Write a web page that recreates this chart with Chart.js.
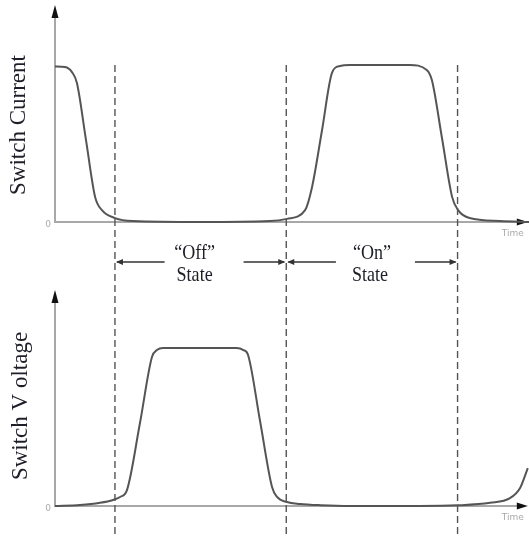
<!DOCTYPE html>
<html>
<head>
<meta charset="utf-8">
<script src="https://cdn.jsdelivr.net/npm/chart.js@4/dist/chart.umd.min.js"></script>
<style>
  html, body { margin: 0; padding: 0; background: #fff; }
  #wrap { width: 529px; height: 536px; }
</style>
</head>
<body>
<div id="wrap"><canvas id="switchChart" width="529" height="536"></canvas></div>
<script>
// =========================
// DATA
// =========================

// time axis (arbitrary units), shared by both traces
const currentTimes = [0, 0.58, 0.99, 1.28, 1.81, 2.34, 2.74, 3.5, 4.55, 8.5, 12.55, 13.54, 14.6, 15.0, 15.59, 16.17, 16.64, 17.2, 20.7, 21.7, 22.0, 22.59, 23.18, 23.53, 24.2, 25.98, 27.67];
const currentValues = [0.99, 0.987, 0.955, 0.885, 0.522, 0.16, 0.076, 0.025, 0.006, 0, 0.006, 0.02, 0.076, 0.22, 0.586, 0.95, 0.994, 1.0, 1.0, 0.968, 0.904, 0.535, 0.16, 0.076, 0.025, 0.006, 0];

const voltageTimes = [0, 1.46, 2.63, 3.39, 3.8, 4.2, 4.96, 5.66, 5.95, 6.3, 10.6, 11.0, 11.27, 11.97, 12.67, 12.96, 13.54, 14.3, 15.5, 17.2, 21.3, 23.5, 25.4, 26.56, 27.15, 27.6];
const voltageValues = [0, 0.006, 0.02, 0.038, 0.057, 0.1, 0.525, 0.943, 0.987, 1.0, 1.0, 0.987, 0.956, 0.538, 0.12, 0.057, 0.025, 0.013, 0.005, 0, 0, 0.004, 0.02, 0.05, 0.114, 0.24];

// switching instants (dashed lines)
const stateEdges = [3.5, 13.5, 23.5];
const stateNames = ["\u201cOff\u201d", "\u201cOn\u201d"];

const axisTitles = ["Switch Current", "Switch V oltage"];
const timeLabel = "Time";
const zeroLabel = "0";

const xEnd = 27.25;


// =========================
// HELPERS
// =========================

function toPoints(times, values) {

  return times.map(
    (t, i) => ({ x: t, y: values[i] })
  );

}


function arrowHead(ctx, x, y, dir, len, half) {

  ctx.beginPath();

  if(dir === "up") {
    ctx.moveTo(x, y);
    ctx.lineTo(x - half, y + len);
    ctx.lineTo(x + half, y + len);
  } else if(dir === "right") {
    ctx.moveTo(x, y);
    ctx.lineTo(x - len, y - half);
    ctx.lineTo(x - len, y + half);
  } else {
    ctx.moveTo(x, y);
    ctx.lineTo(x + len, y - half);
    ctx.lineTo(x + len, y + half);
  }

  ctx.closePath();
  ctx.fill();

}


function serifText(ctx, text, x, y, size, squeeze) {

  ctx.save();
  ctx.translate(x, y);
  ctx.scale(squeeze, 1);
  ctx.font = size + "px 'Liberation Serif', 'DejaVu Serif', serif";
  ctx.textAlign = "center";
  ctx.textBaseline = "middle";
  ctx.fillText(text, 0, 0);
  ctx.restore();

}


// =========================
// AXES + ANNOTATIONS
// =========================

const diagramPlugin = {

  id: "diagram",

  beforeDatasetsDraw(chart) {

    const ctx = chart.ctx;
    const xs = chart.scales.x;
    const x0 = xs.getPixelForValue(0);
    const x1 = xs.getPixelForValue(xEnd);

    const panels = [
      { scale: chart.scales.yI, top: 5, title: axisTitles[0], tx: 25, ty: 125 },
      { scale: chart.scales.yV, top: 290, title: axisTitles[1], tx: 27, ty: 406 }
    ];

    panels.forEach(p => {

      const base = p.scale.getPixelForValue(0);

      ctx.save();
      ctx.strokeStyle = "#a8a8a8";
      ctx.lineWidth = 2;
      ctx.beginPath();
      ctx.moveTo(x0, p.top + 8);
      ctx.lineTo(x0, base);
      ctx.lineTo(x1 - 4, base);
      ctx.stroke();

      ctx.fillStyle = "#111";
      arrowHead(ctx, x0, p.top, "up", 13, 3.5);
      arrowHead(ctx, x1 + 6, base, "right", 11, 3.5);

      // small tick labels
      ctx.fillStyle = "#aaa";
      ctx.font = "9px 'DejaVu Sans', sans-serif";
      ctx.textAlign = "center";
      ctx.textBaseline = "middle";
      ctx.fillText(zeroLabel, x0 - 7, base + 3);
      ctx.fillText(timeLabel, x1 - 9, base + 12);

      // rotated title
      ctx.fillStyle = "#1e1e28";
      ctx.translate(p.tx, p.ty);
      ctx.rotate(-Math.PI / 2);
      ctx.font = "23px 'Liberation Serif', 'DejaVu Serif', serif";
      ctx.textAlign = "center";
      ctx.textBaseline = "alphabetic";
      ctx.fillText(p.title, 0, 0);
      ctx.restore();

    });

  },

  afterDatasetsDraw(chart) {

    const ctx = chart.ctx;
    const xs = chart.scales.x;
    const edges = stateEdges.map(t => xs.getPixelForValue(t));

    // dashed switching lines
    ctx.save();
    ctx.strokeStyle = "#555";
    ctx.lineWidth = 1.4;
    ctx.setLineDash([7, 4]);
    edges.forEach(px => {
      ctx.beginPath();
      ctx.moveTo(px, 65);
      ctx.lineTo(px, 536);
      ctx.stroke();
    });
    ctx.restore();

    // state span arrows and labels
    const arrowY = 262;

    ctx.save();
    ctx.strokeStyle = "#333";
    ctx.fillStyle = "#333";
    ctx.lineWidth = 1.3;

    for(let i = 0; i < stateNames.length; i++) {

      const a = edges[i];
      const b = edges[i + 1];
      const mid = (a + b) / 2 + 1;

      ctx.beginPath();
      ctx.moveTo(a + 2, arrowY);
      ctx.lineTo(mid - 37, arrowY);
      ctx.moveTo(mid + 42, arrowY);
      ctx.lineTo(b - 2, arrowY);
      ctx.stroke();

      arrowHead(ctx, a + 1, arrowY, "left", 7, 3);
      arrowHead(ctx, b - 1, arrowY, "right", 7, 3);

      ctx.fillStyle = "#1e1e28";
      serifText(ctx, stateNames[i], mid - 7 + i * 6, 253, 22, 0.82);
      serifText(ctx, "State", mid - 7 + i * 4, 275, 22, 0.82);
      ctx.fillStyle = "#333";

    }

    ctx.restore();

  }

};


// =========================
// CHART
// =========================

new Chart(
  document.getElementById("switchChart"),
  {

    type: "line",

    data: {

      datasets: [

        {
          label: "Switch Current",
          data: toPoints(currentTimes, currentValues),
          yAxisID: "yI",
          borderColor: "#555",
          borderWidth: 2,
          pointRadius: 0,
          cubicInterpolationMode: "monotone",
          clip: false
        },

        {
          label: "Switch Voltage",
          data: toPoints(voltageTimes, voltageValues),
          yAxisID: "yV",
          borderColor: "#555",
          borderWidth: 2,
          pointRadius: 0,
          cubicInterpolationMode: "monotone",
          clip: false
        }

      ]

    },

    options: {

      responsive: false,
      animation: false,
      events: [],

      layout: {
        padding: { left: 55, right: 0, top: 0, bottom: 0 }
      },

      scales: {
        x: { type: "linear", min: 0, max: 27.67, display: false },
        yI: { type: "linear", min: -2.0, max: 1.414, display: false },
        yV: { type: "linear", min: -0.19, max: 3.2025, display: false }
      },

      plugins: {
        legend: { display: false },
        tooltip: { enabled: false }
      }

    },

    plugins: [diagramPlugin]

  }
);
</script>
</body>
</html>
